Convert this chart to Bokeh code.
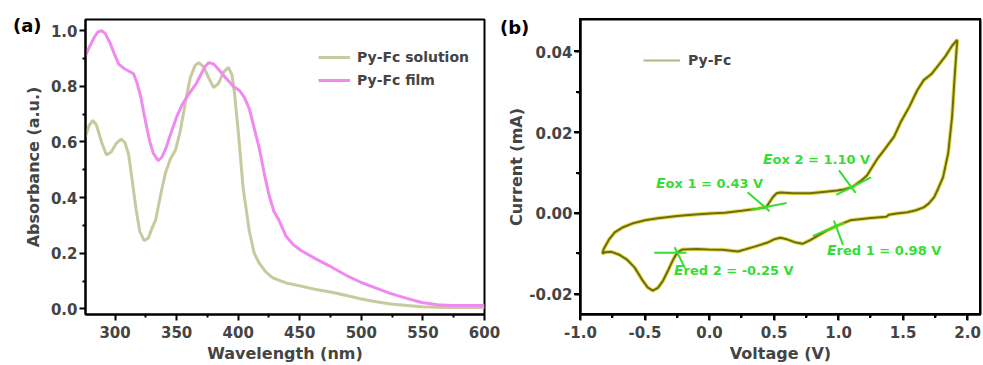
import numpy as np
from bokeh.plotting import figure
from bokeh.layouts import row
from bokeh.models import (Range1d, FixedTicker, NumeralTickFormatter,
                          Legend, LegendItem, Div)
from bokeh.embed import file_html
from bokeh.resources import INLINE

FONT = "DejaVu Sans"

# ---------------- Panel (a): UV-vis absorbance ----------------
sol_wl = [276, 279, 282, 285, 289, 293, 297, 301, 305, 308, 311, 314, 317, 320, 323.6,
          327, 330, 333, 337, 341, 345, 349, 353, 357, 361, 365, 368, 372, 376, 380,
          384, 388, 392, 395, 397, 400, 404, 409, 413, 417, 422, 428, 435, 440, 451,
          463, 476, 488, 500, 512, 524, 537, 549, 562, 575, 600]
sol_abs = [0.62, 0.66, 0.677, 0.66, 0.60, 0.553, 0.565, 0.595, 0.61, 0.598, 0.555, 0.46,
           0.36, 0.28, 0.245, 0.255, 0.29, 0.32, 0.41, 0.49, 0.54, 0.57, 0.64, 0.74, 0.83,
           0.875, 0.885, 0.87, 0.83, 0.795, 0.81, 0.85, 0.868, 0.84, 0.775, 0.64, 0.435,
           0.28, 0.20, 0.165, 0.135, 0.112, 0.100, 0.092, 0.082, 0.070, 0.060, 0.048,
           0.036, 0.026, 0.018, 0.012, 0.008, 0.006, 0.005, 0.005]

film_wl = [276, 279, 283, 286, 289, 292, 296, 300, 303, 307, 311, 315, 318, 321, 324,
           328, 331, 335, 338, 341.5, 346, 350, 354, 358, 362, 366, 370, 373, 376, 380,
           385, 390, 396, 401, 405, 409, 413, 417, 421, 425, 429, 433, 439, 445, 451,
           463, 476, 488, 500, 512, 524, 537, 549, 562, 573, 585, 600]
film_abs = [0.91, 0.94, 0.975, 0.995, 1.0, 0.99, 0.955, 0.91, 0.88, 0.865, 0.855, 0.845,
            0.81, 0.76, 0.69, 0.605, 0.56, 0.533, 0.545, 0.58, 0.64, 0.69, 0.73, 0.76,
            0.785, 0.81, 0.845, 0.87, 0.885, 0.88, 0.856, 0.83, 0.80, 0.785, 0.76, 0.72,
            0.65, 0.58, 0.49, 0.41, 0.35, 0.32, 0.26, 0.23, 0.21, 0.18, 0.15, 0.12, 0.095,
            0.075, 0.055, 0.038, 0.023, 0.015, 0.012, 0.012, 0.012]

uv_labels = ["Py-Fc solution", "Py-Fc film"]
uv_xticks = [300, 350, 400, 450, 500, 550, 600]
uv_xminor = [325, 375, 425, 475, 525, 575]
uv_yticks = [0.0, 0.2, 0.4, 0.6, 0.8, 1.0]
uv_yminor = [0.1, 0.3, 0.5, 0.7, 0.9]

# ---------------- Panel (b): cyclic voltammogram ----------------
cv_v = [1.92, 1.90, 1.88, 1.85, 1.81, 1.77, 1.74, 1.70, 1.66, 1.60, 1.535, 1.45, 1.39, 1.37,
        1.25, 1.09, 0.99, 0.91, 0.84, 0.78, 0.72, 0.66, 0.60, 0.55, 0.50, 0.45, 0.35, 0.22,
        0.10, -0.01, -0.10, -0.21, -0.25, -0.28, -0.32, -0.36, -0.40, -0.44, -0.48, -0.52,
        -0.58, -0.64, -0.70, -0.76, -0.81, -0.83,
        -0.82, -0.78, -0.735, -0.67, -0.60, -0.50, -0.40, -0.25, -0.137, 0.0, 0.12, 0.25,
        0.376, 0.44, 0.49, 0.52, 0.55, 0.65, 0.78, 0.90, 0.99, 1.05, 1.11, 1.17, 1.22,
        1.30, 1.36, 1.43, 1.48, 1.55, 1.61, 1.66, 1.72, 1.77, 1.83, 1.88, 1.92]
cv_i = [0.043, 0.034, 0.024, 0.015, 0.009, 0.006, 0.004, 0.0025, 0.0015, 0.0008, 0.0003,
        0.0, -0.0003, -0.0008, -0.0011, -0.0017, -0.0030, -0.0042, -0.0055, -0.0066,
        -0.0075, -0.0071, -0.0064, -0.0060, -0.0064, -0.0072, -0.0082, -0.0094, -0.0090,
        -0.0089, -0.0088, -0.0089, -0.0097, -0.0113, -0.0140, -0.0166, -0.0184, -0.0191,
        -0.0183, -0.0165, -0.0134, -0.0114, -0.0102, -0.0095, -0.0096, -0.0099,
        -0.0088, -0.0065, -0.0047, -0.0034, -0.0025, -0.0017, -0.0012, -0.0006, -0.0003,
        0.0, 0.0002, 0.0007, 0.0012, 0.0016, 0.0040, 0.0050, 0.0052, 0.0050, 0.0050,
        0.0054, 0.0057, 0.0060, 0.0066, 0.0080, 0.0094, 0.0135, 0.0160, 0.0190, 0.0225,
        0.0265, 0.0305, 0.0330, 0.0345, 0.0365, 0.0390, 0.0415, 0.043]
cv_label = "Py-Fc"
vertex_index = 45  # index of the negative switching point (end of lower branch)
cv_xticks = [-1.0, -0.5, 0.0, 0.5, 1.0, 1.5, 2.0]
cv_xminor = [-0.75, -0.25, 0.25, 0.75, 1.25, 1.75]
cv_yticks = [-0.02, 0.0, 0.02, 0.04]
cv_yminor = [-0.01, 0.01, 0.03]

# onset annotations
onset_v = [0.43, 1.10, 0.98, -0.25]
onset_branch = ["upper", "upper", "lower", "lower"]
onset_kind = ["ox", "ox", "red", "red"]
onset_rest = [" 1 = 0.43 V", " 2 = 1.10 V", " 1 = 0.98 V", " 2 = -0.25 V"]
onset_text_x = [-0.41, 0.415, 0.913, -0.269]
onset_text_y = [0.00745, 0.0134, -0.0092, -0.0142]
# tangent-marker styling (angles in degrees, lengths in px)
mk_ang1 = [-40.8, -53.5, -69.4, -63.4]
mk_fwd1 = [6, 7, 20, 17]
mk_back1 = [23, 21, 6, 6]
mk_ang2 = [11.0, 26.6, 22.7, 0.0]
mk_fwd2 = [22, 22, 9, 9]
mk_back2 = [14, 17, 25, 23]

panel_tags = ["(a)", "(b)"]
GREEN = "#35dd35"

# layout sizes (px)
A_W, B_W, H = 500, 483, 365
A_L, A_R, B_L, B_R, TOP, BOT = 85, 16, 80, 3, 19, 51


def style(p, xt, xm, yt, ym):
    p.grid.visible = False
    p.outline_line_color = "black"
    p.outline_line_width = 2
    p.xaxis.ticker = FixedTicker(ticks=xt, minor_ticks=xm)
    p.yaxis.ticker = FixedTicker(ticks=yt, minor_ticks=ym)
    for ax in (p.xaxis[0], p.yaxis[0]):
        ax.axis_line_width = 2
        ax.major_tick_line_width = 2
        ax.minor_tick_line_width = 2
        ax.major_tick_out = 6
        ax.major_tick_in = 0
        ax.minor_tick_out = 3
        ax.minor_tick_in = 0
        ax.major_label_text_font = FONT
        ax.major_label_text_font_style = "bold"
        ax.major_label_text_font_size = "15px"
        ax.axis_label_text_font = FONT
        ax.axis_label_text_font_style = "bold"
        ax.axis_label_text_font_size = "16px"
    p.xaxis[0].major_label_standoff = 5
    p.xaxis[0].axis_label_standoff = 3
    p.yaxis[0].major_label_standoff = 2


# ---------- figure (a) ----------
pa = figure(width=A_W, height=H, output_backend="svg", toolbar_location=None,
            x_range=Range1d(276, 600), y_range=Range1d(-0.02, 1.04),
            min_border_left=A_L, min_border_right=A_R, min_border_top=TOP,
            min_border_bottom=BOT)
style(pa, uv_xticks, uv_xminor, uv_yticks, uv_yminor)
pa.xaxis.axis_label = "Wavelength (nm)"
pa.yaxis.axis_label = "Absorbance (a.u.)"
pa.yaxis[0].axis_label_standoff = 5
pa.yaxis.formatter = NumeralTickFormatter(format="0.0")

r_sol = pa.line(sol_wl, sol_abs, line_color="#c9c99f", line_width=3)
r_film = pa.line(film_wl, film_abs, line_color="#f08af0", line_width=3)

leg_a = Legend(items=[LegendItem(label=uv_labels[0], renderers=[r_sol]),
                      LegendItem(label=uv_labels[1], renderers=[r_film])],
               location=(233, 224), padding=0, margin=0, spacing=3,
               glyph_width=32, glyph_height=20, label_height=20, label_standoff=7,
               label_text_font=FONT, label_text_font_style="bold",
               label_text_font_size="14px", background_fill_alpha=0,
               border_line_alpha=0)
pa.add_layout(leg_a)

# ---------- figure (b) ----------
bx0, bx1, by0, by1 = -1.0, 2.1, -0.025, 0.048
pb = figure(width=B_W, height=H, output_backend="svg", toolbar_location=None,
            x_range=Range1d(bx0, bx1), y_range=Range1d(by0, by1),
            min_border_left=B_L, min_border_right=B_R, min_border_top=TOP,
            min_border_bottom=BOT)
style(pb, cv_xticks, cv_xminor, cv_yticks, cv_yminor)
pb.xaxis.axis_label = "Voltage (V)"
pb.yaxis.axis_label = "Current (mA)"
pb.yaxis[0].axis_label_standoff = 0
pb.xaxis.formatter = NumeralTickFormatter(format="0.0")
pb.yaxis.formatter = NumeralTickFormatter(format="0.00")

r_leg = pb.line(cv_v, cv_i, line_color="#b5b585", line_width=2)
pb.line(cv_v, cv_i, line_color="#e2e24a", line_width=4)
pb.line(cv_v, cv_i, line_color="#6f6a18", line_width=2)

# marker centres from the curve at each onset potential
cv_v_arr = np.array(cv_v)
cv_i_arr = np.array(cv_i)
lower_v = cv_v_arr[:vertex_index + 1][::-1]
lower_i = cv_i_arr[:vertex_index + 1][::-1]
upper_v = cv_v_arr[vertex_index:]
upper_i = cv_i_arr[vertex_index:]
cx, cy = [], []
for v, b in zip(onset_v, onset_branch):
    cx.append(v)
    if b == "upper":
        cy.append(float(np.interp(v, upper_v, upper_i)))
    else:
        cy.append(float(np.interp(v, lower_v, lower_i)))

# pixel <-> data conversion from the frame size
FW = B_W - B_L - B_R
FH = H - TOP - BOT
px_per_x = FW / (bx1 - bx0)
px_per_y = FH / (by1 - by0)
for ang_deg, fwd, back in ((mk_ang1, mk_fwd1, mk_back1), (mk_ang2, mk_fwd2, mk_back2)):
    for k in range(len(cx)):
        ang = np.radians(ang_deg[k])
        xs = [cx[k] - back[k] * np.cos(ang) / px_per_x, cx[k] + fwd[k] * np.cos(ang) / px_per_x]
        ys = [cy[k] - back[k] * np.sin(ang) / px_per_y, cy[k] + fwd[k] * np.sin(ang) / px_per_y]
        pb.line(xs, ys, line_color=GREEN, line_width=2)

leg_b = Legend(items=[LegendItem(label=cv_label, renderers=[r_leg])],
               location=(63, 244), padding=0, margin=0, spacing=3,
               glyph_width=37, glyph_height=20, label_height=20, label_standoff=8,
               label_text_font=FONT, label_text_font_style="bold",
               label_text_font_size="14px", background_fill_alpha=0,
               border_line_alpha=0)
pb.add_layout(leg_b)

# ---------- HTML overlays ----------
def overlay(left, top, w=None, h=None, text="", **css):
    st = {"position": "absolute", "left": f"{left:.0f}px", "top": f"{top:.0f}px",
          "box-sizing": "border-box"}
    kw = {}
    if w is not None:
        st["width"] = f"{w}px"
        kw["width"] = w
    if h is not None:
        st["height"] = f"{h}px"
        kw["height"] = h
    st.update(css)
    return Div(text=text, margin=0, styles=st, **kw)


tag_css = {"font-family": FONT, "font-weight": "bold", "font-size": "18px",
           "line-height": "1", "color": "black"}
overlays = [overlay(13, 17, text=panel_tags[0], **tag_css),
            overlay(500, 19, text=panel_tags[1], **tag_css)]

lab_css = {"font-family": FONT, "font-weight": "bold", "font-size": "13px",
           "line-height": "1", "color": GREEN, "white-space": "nowrap"}
FX0 = A_W + B_L  # page x of panel (b) frame
for tx, ty, kind, rest in zip(onset_text_x, onset_text_y, onset_kind, onset_rest):
    left = FX0 + (tx - bx0) * px_per_x
    top = TOP + (by1 - ty) * px_per_y - 7
    html = '<i style="font-size:14px">E</i>' + kind + rest
    overlays.append(overlay(left, top, text=html, **lab_css))

# frame box and ticks of panel (b), positioned from its ranges and ticks
overlays.append(overlay(FX0 - 1, TOP - 1, FW + 2, FH + 2, border="2px solid black"))
for t in cv_xticks:
    overlays.append(overlay(FX0 + (t - bx0) * px_per_x - 1, TOP + FH + 1, 2, 5,
                            background="black"))
for t in cv_xminor:
    overlays.append(overlay(FX0 + (t - bx0) * px_per_x - 1, TOP + FH + 1, 2, 3,
                            background="black"))
for t in cv_yticks:
    overlays.append(overlay(FX0 - 6, TOP + (by1 - t) * px_per_y - 1, 5, 2,
                            background="black"))
for t in cv_yminor:
    overlays.append(overlay(FX0 - 4, TOP + (by1 - t) * px_per_y - 1, 3, 2,
                            background="black"))

layout = row(pa, pb, *overlays)
open("out.html", "w").write(file_html(layout, INLINE))
